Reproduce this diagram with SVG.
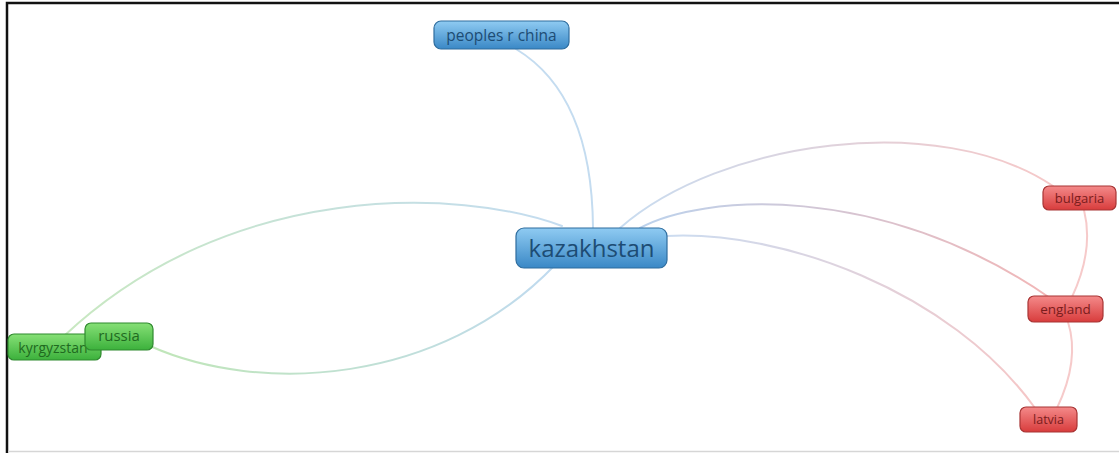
<svg xmlns="http://www.w3.org/2000/svg" width="1119" height="453" viewBox="0 0 1119 453">
<defs>
<style>
.edge{fill:none;stroke-width:2;stroke-linecap:round}
.lbl{font-family:"Open Sans","DejaVu Sans",sans-serif;text-anchor:middle;dominant-baseline:central}
.blue rect{fill:url(#gBlue);stroke:#2f6d9e;stroke-width:1.2}
.blue text{fill:#1d4c74}
.green rect{fill:url(#gGreen);stroke:#2f8a2f;stroke-width:1.2}
.green text{fill:#1f6a1f}
.red rect{fill:url(#gRed);stroke:#a83434;stroke-width:1.2}
.red text{fill:#7a1c1c}
</style>
<linearGradient id="gBlue" x1="0" y1="0" x2="0" y2="1"><stop offset="0" stop-color="#8fcbf2"/><stop offset="1" stop-color="#3a88c6"/></linearGradient>
<linearGradient id="gGreen" x1="0" y1="0" x2="0" y2="1"><stop offset="0" stop-color="#86e076"/><stop offset="1" stop-color="#3cb13c"/></linearGradient>
<linearGradient id="gRed" x1="0" y1="0" x2="0" y2="1"><stop offset="0" stop-color="#f48a8a"/><stop offset="1" stop-color="#d83c3c"/></linearGradient>
<linearGradient id="eBG" gradientUnits="userSpaceOnUse" x1="560" y1="226" x2="64" y2="336"><stop offset="0" stop-color="#c4dcf0"/><stop offset="1" stop-color="#c8e8c0"/></linearGradient>
<linearGradient id="eBG2" gradientUnits="userSpaceOnUse" x1="555" y1="265" x2="150" y2="346"><stop offset="0" stop-color="#c0daf0"/><stop offset="1" stop-color="#c0e6b8"/></linearGradient>
<linearGradient id="eBR1" gradientUnits="userSpaceOnUse" x1="620" y1="228" x2="1053" y2="186"><stop offset="0" stop-color="#c8dcf0"/><stop offset="1" stop-color="#f6c8c8"/></linearGradient>
<linearGradient id="eBR2" gradientUnits="userSpaceOnUse" x1="640" y1="228" x2="1050" y2="298"><stop offset="0" stop-color="#bcd2ec"/><stop offset="1" stop-color="#f2b6b6"/></linearGradient>
<linearGradient id="eBR3" gradientUnits="userSpaceOnUse" x1="667" y1="236" x2="1035" y2="408"><stop offset="0" stop-color="#ccdcf0"/><stop offset="1" stop-color="#f6c6c6"/></linearGradient>
</defs>
<rect x="0" y="0" width="1119" height="453" fill="#ffffff"/>
<path d="M7,453 V3 H1119" fill="none" stroke="#111" stroke-width="2.5"/>
<line x1="8" y1="451.5" x2="1119" y2="451.5" stroke="#d6d6d6" stroke-width="1.5"/>

<g id="connectors">
<path class="edge" d="M593,228 Q592,95 516,49" stroke="#c4dcf0"/>
<path class="edge" d="M562,226 C460,188 230,180 64,336" stroke="url(#eBG)"/>
<path class="edge" d="M555,265 C440,385 260,395 150,346" stroke="url(#eBG2)" stroke-width="2.5"/>
<path class="edge" d="M620,228 C720,140 940,110 1053,186" stroke="url(#eBR1)"/>
<path class="edge" d="M640,228 C700,195 880,180 1050,298" stroke="url(#eBR2)" stroke-width="2.6"/>
<path class="edge" d="M667,236 C780,230 950,290 1035,408" stroke="url(#eBR3)"/>
<path class="edge" d="M1084,210 Q1094,250 1072,297" stroke="#f6caca"/>
<path class="edge" d="M1068,322 Q1080,360 1057,408" stroke="#f6caca"/>
</g>

<g id="node-peoples-r-china" class="blue">
<rect x="434" y="21" width="135" height="28" rx="7"/>
<text class="lbl" x="501.5" y="34.5" font-size="15.5">peoples r china</text>
</g>
<g id="node-kazakhstan" class="blue">
<rect x="516" y="228" width="151" height="40" rx="8"/>
<text class="lbl" x="591.5" y="247" font-size="24">kazakhstan</text>
</g>
<g id="node-kyrgyzstan" class="green">
<rect x="8" y="334" width="93" height="26" rx="6"/>
<text class="lbl" x="53" y="347" font-size="14">kyrgyzstan</text>
</g>
<g id="node-russia" class="green">
<rect x="85" y="323" width="68" height="27" rx="6"/>
<text class="lbl" x="119" y="335" font-size="15">russia</text>
</g>
<g id="node-bulgaria" class="red">
<rect x="1043" y="186" width="73" height="24" rx="6"/>
<text class="lbl" x="1079.5" y="197.5" font-size="13">bulgaria</text>
</g>
<g id="node-england" class="red">
<rect x="1028" y="296" width="75" height="26" rx="6"/>
<text class="lbl" x="1065.5" y="308.5" font-size="13.5">england</text>
</g>
<g id="node-latvia" class="red">
<rect x="1020" y="407" width="57" height="25" rx="6"/>
<text class="lbl" x="1048.5" y="419.5" font-size="12.5">latvia</text>
</g>
</svg>
